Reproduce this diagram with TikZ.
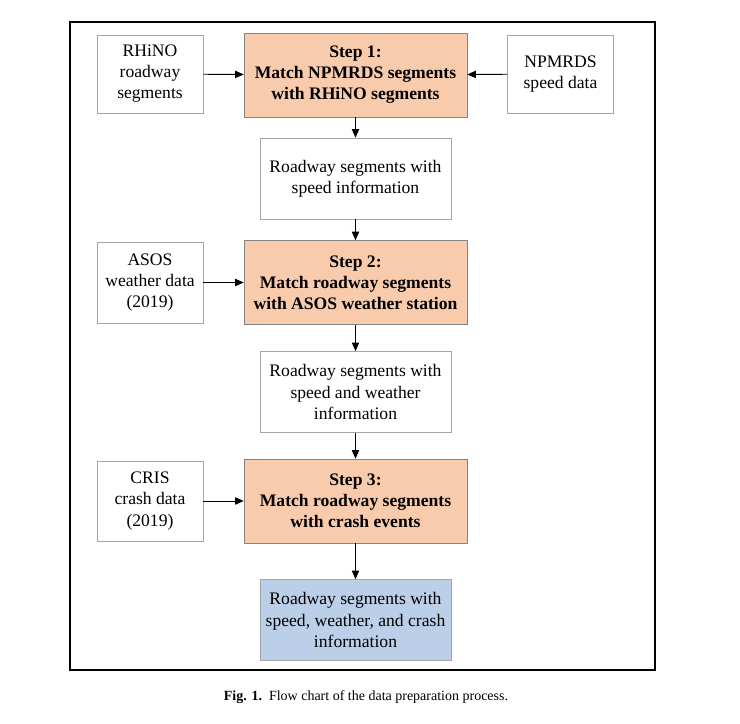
\documentclass[tikz,border=0pt]{standalone}
\usepackage{fontspec}
\setmainfont{Liberation Serif}
\usetikzlibrary{arrows.meta}
\usepackage{xcolor}
\definecolor{stepfill}{HTML}{F8CBAD}
\definecolor{resultfill}{HTML}{BCCFE8}
\definecolor{boxline}{HTML}{A6A6A6}

\begin{document}
\begin{tikzpicture}[x=0.75pt,y=-0.75pt,
		inbox/.style={rectangle,draw=boxline,fill=white,align=center,inner sep=0pt,
			minimum width=79.5pt,minimum height=58.5pt,font=\fontsize{13.2}{15.8}\selectfont},
		stepbox/.style={rectangle,draw=boxline!80!black,fill=stepfill,align=center,inner sep=0pt,
			minimum width=167.25pt,minimum height=63pt,font=\fontsize{13.2}{15.8}\selectfont\bfseries},
		midbox/.style={rectangle,draw=boxline,fill=white,align=center,inner sep=0pt,
			minimum width=143.25pt,minimum height=60.75pt,font=\fontsize{13.2}{15.8}\selectfont},
		arr/.style={-{Triangle[length=6.5pt,width=5.5pt]},line width=0.7pt}]
				\useasboundingbox (0,0) rectangle (740,724);
				\draw[line width=0.9pt] (70,22) rectangle (655,670);
				
				\node(rhino) at (150,74)[inbox]{RHiNO\\roadway\\segments};
				\node(step1) at (355.5,75)[stepbox]{Step 1:\\Match NPMRDS segments\\with RHiNO segments};
				\node(npmrds) at (560.5,74)[inbox]{NPMRDS\\speed data};
				\node(road1) at (355.5,178.5)[midbox]{Roadway segments with\\speed information};
				\node(asos) at (150,282.5)[inbox,minimum height=60.75pt]{ASOS\\weather data\\(2019)};
				\node(step2) at (355.5,282.5)[stepbox]{Step 2:\\Match roadway segments\\with ASOS weather station};
				\node(road2) at (355.5,392)[midbox]{Roadway segments with\\speed and weather\\information};
				\node(cris) at (150,501)[inbox,minimum height=60pt]{CRIS\\crash data\\(2019)};
				\node(step3) at (355.5,501)[stepbox]{Step 3:\\Match roadway segments\\with crash events};
				\node(result) at (355.5,620)[midbox,fill=resultfill]{Roadway segments with\\speed, weather, and crash\\information};
				
				\draw[arr] (rhino) to (step1);
				\draw[arr] (npmrds) to (step1);
				\draw[arr] (step1) to (road1);
				\draw[arr] (road1) to (step2);
				\draw[arr] (asos) to (step2);
				\draw[arr] (step2) to (road2);
				\draw[arr] (road2) to (step3);
				\draw[arr] (cris) to (step3);
				\draw[arr] (step3) to (result);
				
				\node(caption) at (366,697)[font=\fontsize{10.5}{12}\selectfont]{\textbf{Fig. 1.}\ \ Flow chart of the data preparation process.};
			\end{tikzpicture}
\end{document}
